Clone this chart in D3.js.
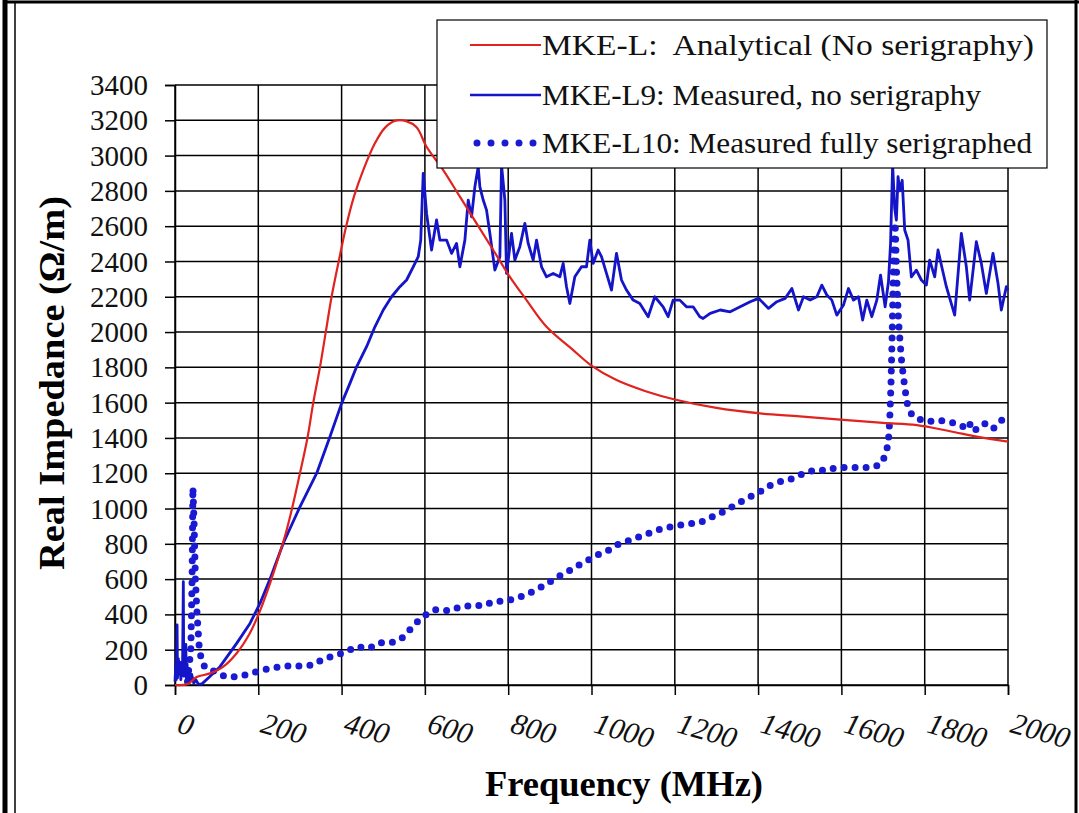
<!DOCTYPE html>
<html>
  <head>
    <title>Real impedance</title>
    <script src="https://cdn.jsdelivr.net/npm/d3@7"></script>
    <style>
      body { margin: 0; background: #fff; }
      text { font-family: "Liberation Serif", "Times New Roman", Tinos, serif; }
    </style>
  </head>
  <body>
    <script>
      // Data: [frequency MHz, impedance Ohm/m]
      const analytical = [
        [0, 0], [30, 5], [52, 45], [84, 66], [116, 104], [148, 180], [180, 295],
        [204, 420], [228, 575], [248, 720], [266, 860], [282, 1010], [300, 1200],
        [318, 1400], [332, 1600], [348, 1800], [362, 2000], [376, 2200], [393, 2400],
        [411, 2600], [430, 2770], [452, 2918], [480, 3070], [505, 3160],
        [530, 3198], [555, 3195], [580, 3160], [604, 3050], [644, 2918], [684, 2767],
        [724, 2616], [764, 2465], [804, 2313], [844, 2181], [892, 2030], [956, 1898],
        [1000, 1810], [1060, 1728], [1130, 1665], [1200, 1618], [1300, 1570],
        [1405, 1539], [1500, 1522], [1605, 1502], [1700, 1485], [1781, 1473],
        [1861, 1438], [1925, 1407], [2000, 1379]
      ];

      const measuredL9 = [
        [0, 20], [2, 120], [3, 30], [5, 340], [6, 40], [8, 150], [10, 60], [12, 130],
        [14, 30], [16, 100], [18, 60], [20, 585], [21, 50], [23, 150], [25, 60],
        [26, 230], [27, 40], [29, 120], [31, 30], [33, 90], [36, 20], [40, 60],
        [45, 10], [50, 30], [56, 5], [64, 5], [80, 40], [108, 104], [148, 236],
        [180, 349], [204, 462], [228, 600], [260, 803], [300, 1010], [340, 1199],
        [372, 1407], [400, 1596], [420, 1709], [436, 1803], [460, 1917], [480, 2030],
        [500, 2125], [520, 2200], [540, 2257], [556, 2295], [572, 2370], [584, 2427],
        [590, 2521], [596, 2899], [604, 2672], [616, 2465], [628, 2635], [636, 2521],
        [652, 2521], [664, 2446], [676, 2502], [684, 2370], [696, 2521], [704, 2748],
        [712, 2653], [720, 2823], [728, 2937], [732, 2823], [740, 2748], [748, 2691],
        [756, 2559], [768, 2351], [780, 2427], [784, 2946], [792, 2748], [796, 2332],
        [808, 2559], [816, 2408], [828, 2484], [840, 2616], [848, 2502], [860, 2408],
        [868, 2521], [880, 2370], [892, 2313], [908, 2332], [924, 2313], [932, 2389],
        [940, 2257], [948, 2162], [960, 2313], [976, 2370], [988, 2370], [996, 2521],
        [1004, 2389], [1016, 2465], [1024, 2427], [1036, 2332], [1048, 2238],
        [1060, 2446], [1072, 2295], [1084, 2238], [1100, 2181], [1116, 2162],
        [1136, 2087], [1152, 2200], [1172, 2143], [1184, 2087], [1196, 2181],
        [1212, 2181], [1228, 2143], [1244, 2143], [1260, 2087], [1268, 2077],
        [1285, 2106], [1309, 2125], [1333, 2115], [1357, 2143], [1381, 2172],
        [1401, 2191], [1425, 2134], [1445, 2172], [1465, 2191], [1481, 2247],
        [1497, 2125], [1509, 2200], [1525, 2181], [1541, 2200], [1553, 2266],
        [1565, 2210], [1577, 2181], [1589, 2096], [1605, 2153], [1617, 2247],
        [1629, 2181], [1641, 2200], [1651, 2068], [1661, 2181], [1673, 2087],
        [1685, 2181], [1694, 2323], [1705, 2143], [1713, 2285], [1718, 2502],
        [1723, 2946], [1728, 2700], [1732, 2635], [1736, 2880], [1740, 2800],
        [1746, 2860], [1752, 2578], [1760, 2521], [1768, 2313], [1780, 2351],
        [1792, 2295], [1804, 2266], [1812, 2408], [1824, 2313], [1832, 2465],
        [1840, 2380], [1852, 2257], [1872, 2096], [1888, 2559], [1900, 2370],
        [1908, 2181], [1924, 2512], [1936, 2389], [1948, 2219], [1964, 2446],
        [1976, 2276], [1984, 2125], [1996, 2257], [2000, 2238]
      ];

      const measuredL10 = [
        [30, 20], [38, 200], [41, 600], [43, 1120], [46, 900], [49, 600], [53, 400],
        [58, 220], [64, 130], [74, 95], [98, 75], [120, 47], [152, 47], [182, 66],
        [210, 85], [238, 98], [268, 108], [300, 108], [331, 113], [356, 147],
        [382, 166], [408, 185], [436, 217], [466, 208], [492, 240], [520, 240],
        [544, 264], [563, 311], [584, 364], [603, 399], [627, 428], [659, 421],
        [686, 444], [712, 450], [742, 450], [767, 475], [791, 475], [819, 490],
        [846, 515], [871, 544], [895, 576], [915, 608], [939, 637], [963, 671],
        [988, 703], [1012, 735], [1039, 761], [1064, 797], [1089, 818], [1119, 844],
        [1146, 867], [1175, 891], [1203, 901], [1230, 914], [1258, 918], [1283, 946],
        [1306, 969], [1330, 999], [1353, 1031], [1378, 1063], [1403, 1093],
        [1429, 1131], [1457, 1156], [1477, 1165], [1501, 1190], [1525, 1212],
        [1549, 1212], [1567, 1227], [1587, 1227], [1609, 1233], [1631, 1233],
        [1653, 1233], [1675, 1233], [1694, 1250], [1707, 1308], [1713, 1384],
        [1716, 1500], [1719, 1700], [1722, 2000], [1725, 2400], [1729, 2620],
        [1733, 2300], [1737, 2068], [1741, 1940], [1745, 1822], [1749, 1747],
        [1753, 1671], [1758, 1596], [1769, 1530], [1781, 1511], [1805, 1492],
        [1833, 1501], [1853, 1492], [1873, 1483], [1893, 1463], [1905, 1492],
        [1918, 1436], [1933, 1473], [1949, 1483], [1965, 1454], [1985, 1501],
        [1997, 1479]
      ];

      const xTicks = [0, 200, 400, 600, 800, 1000, 1200, 1400, 1600, 1800, 2000];
      const yTicks = [0, 200, 400, 600, 800, 1000, 1200, 1400, 1600, 1800, 2000,
        2200, 2400, 2600, 2800, 3000, 3200, 3400];
      const legendLabels = [
        "MKE-L:  Analytical (No serigraphy)",
        "MKE-L9: Measured, no serigraphy",
        "MKE-L10: Measured fully serigraphed"
      ];

      const w = 1079;
      const h = 813;
      const red = "#e0231f";
      const blue = "#1414c8";
      const dotBlue = "#1a1ad2";

      const svg = d3.select("body").append("svg")
        .attr("width", w)
        .attr("height", h);

      // frame round the picture
      svg.append("line").attr("x1", 5).attr("x2", 5).attr("y1", 0).attr("y2", h)
        .attr("stroke", "#000").attr("stroke-width", 5);
      svg.append("line").attr("x1", 15).attr("x2", 15).attr("y1", 3).attr("y2", h)
        .attr("stroke", "#000").attr("stroke-width", 1.5);
      svg.append("line").attr("x1", 3).attr("x2", w).attr("y1", 2).attr("y2", 2)
        .attr("stroke", "#000").attr("stroke-width", 3);
      svg.append("line").attr("x1", w - 3).attr("x2", w - 3).attr("y1", 0).attr("y2", h)
        .attr("stroke", "#000").attr("stroke-width", 3);

      const x = d3.scaleLinear().domain([0, 2000]).range([175, 1008]);
      const y = d3.scaleLinear().domain([0, 3400]).range([685, 85]);

      // grid
      svg.selectAll(".vgrid").data(xTicks).enter().append("line")
        .attr("x1", d => x(d)).attr("x2", d => x(d))
        .attr("y1", y(0)).attr("y2", y(3400))
        .attr("stroke", "#000").attr("stroke-width", 1.5);
      svg.selectAll(".hgrid").data(yTicks).enter().append("line")
        .attr("x1", x(0)).attr("x2", x(2000))
        .attr("y1", d => y(d)).attr("y2", d => y(d))
        .attr("stroke", "#000").attr("stroke-width", 1.5);

      // y axis
      const yAxis = svg.append("g")
        .attr("transform", `translate(${x(0)},0)`)
        .call(d3.axisLeft(y).tickValues(yTicks).tickSize(10).tickPadding(17)
          .tickFormat(d3.format("d")));
      yAxis.attr("font-family", null);
      yAxis.select(".domain").attr("stroke-width", 1.5);
      yAxis.selectAll(".tick line").attr("stroke-width", 1.5);
      yAxis.selectAll("text")
        .attr("font-size", "29px")
        .attr("fill", "#111")
        .attr("dy", "0.33em");

      // x axis, labels are italic and tilted
      const xAxis = svg.append("g")
        .attr("transform", `translate(0,${y(0)})`)
        .call(d3.axisBottom(x).tickValues(xTicks).tickSize(10).tickFormat(""));
      xAxis.select(".domain").attr("stroke-width", 1.5);
      xAxis.selectAll(".tick line").attr("stroke-width", 1.5);

      svg.selectAll(".xlab").data(xTicks).enter().append("text")
        .attr("transform", d => `translate(${x(d) + 1},732) rotate(16)`)
        .attr("font-style", "italic")
        .attr("font-size", "30px")
        .attr("fill", "#111")
        .text(d => d);

      // axis titles
      svg.append("text")
        .attr("transform", `translate(64,383) rotate(-90)`)
        .attr("text-anchor", "middle")
        .attr("font-weight", "bold")
        .attr("font-size", "35px")
        .attr("textLength", 374)
        .attr("lengthAdjust", "spacingAndGlyphs")
        .text("Real Impedance (Ω/m)");
      svg.append("text")
        .attr("x", 624).attr("y", 796)
        .attr("text-anchor", "middle")
        .attr("font-weight", "bold")
        .attr("font-size", "35px")
        .attr("textLength", 278)
        .attr("lengthAdjust", "spacingAndGlyphs")
        .text("Frequency (MHz)");

      // series
      const line = d3.line().x(d => x(d[0])).y(d => y(d[1]));

      svg.append("path").datum(measuredL10)
        .attr("d", line)
        .attr("fill", "none")
        .attr("stroke", dotBlue)
        .attr("stroke-width", 7)
        .attr("stroke-linecap", "round")
        .attr("stroke-dasharray", "0 11");

      svg.append("path").datum(measuredL9)
        .attr("d", line)
        .attr("fill", "none")
        .attr("stroke", blue)
        .attr("stroke-width", 2.8)
        .attr("stroke-linejoin", "round");

      svg.append("path").datum(analytical)
        .attr("d", d3.line().curve(d3.curveCatmullRom).x(d => x(d[0])).y(d => y(d[1])))
        .attr("fill", "none")
        .attr("stroke", red)
        .attr("stroke-width", 2.2);

      // legend
      const lg = svg.append("g");
      lg.append("rect")
        .attr("x", 437).attr("y", 20).attr("width", 610).attr("height", 148)
        .attr("fill", "#fff").attr("stroke", "#000").attr("stroke-width", 1.2);

      const legendRows = [45, 95, 143];
      const legendWidths = [492, 439, 490];
      const legendStyles = [
        { color: red, width: 2.2, dash: null },
        { color: blue, width: 2.5, dash: null },
        { color: dotBlue, width: 7, dash: "0 14" }
      ];
      legendLabels.forEach(function (label, i) {
        const st = legendStyles[i];
        const ln = lg.append("line")
          .attr("x1", i == 2 ? 477 : 470).attr("x2", i == 2 ? 535 : 541)
          .attr("y1", legendRows[i]).attr("y2", legendRows[i])
          .attr("stroke", st.color)
          .attr("stroke-width", st.width);
        if (st.dash) {
          ln.attr("stroke-dasharray", st.dash).attr("stroke-linecap", "round");
        }
        lg.append("text")
          .attr("x", 542).attr("y", legendRows[i] + 10)
          .attr("font-size", "30px")
          .attr("fill", "#111")
          .attr("textLength", legendWidths[i])
          .attr("lengthAdjust", "spacingAndGlyphs")
          .style("white-space", "pre")
          .text(label);
      });
    </script>
  </body>
</html>
